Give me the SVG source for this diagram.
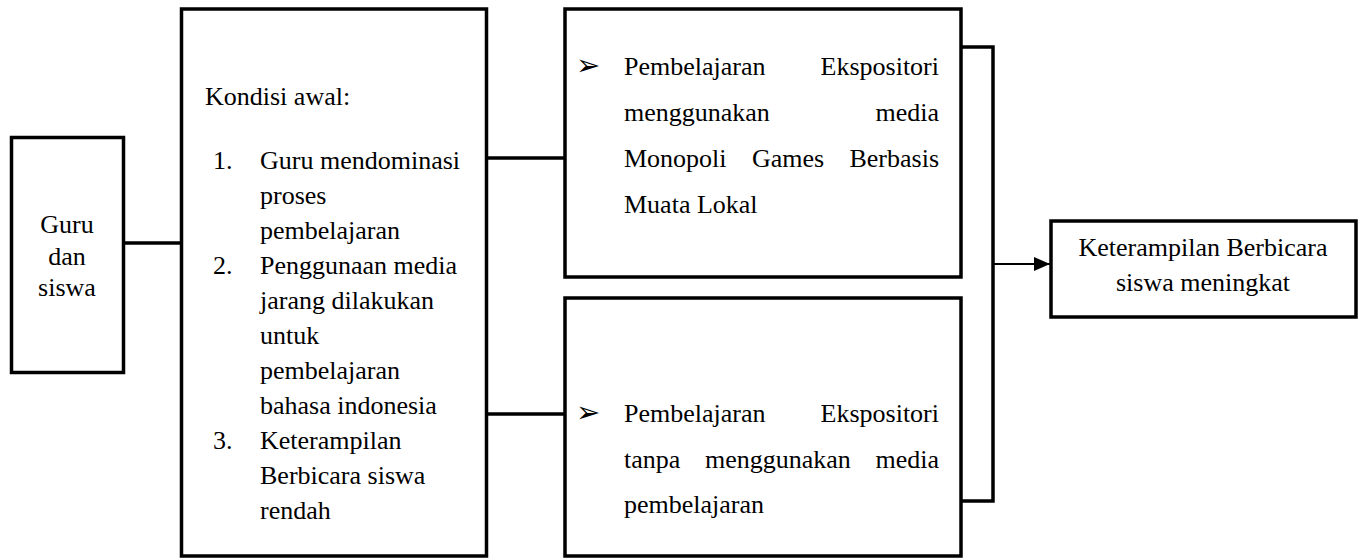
<svg xmlns="http://www.w3.org/2000/svg" width="1362" height="559" viewBox="0 0 1362 559">
<style>
.box{fill:#fff;stroke:#000;stroke-width:3.5}
text{font-family:'Liberation Serif','Times New Roman',serif;font-size:26px;fill:#000}
text.m{text-anchor:middle}
text.e{text-anchor:end}
text.b{font-family:'DejaVu Sans',sans-serif;font-size:29px;fill:#000}
.c{fill:none;stroke:#000;stroke-width:3.5}
</style>
<defs>
<marker id="ah" markerWidth="16" markerHeight="14" refX="16" refY="7" orient="auto" markerUnits="userSpaceOnUse">
<path d="M0,0 L16,7 L0,14 Z" fill="#000"/>
</marker>
</defs>
<rect width="1362" height="559" fill="#fff"/>
<g id="connectors">
<line class="c" x1="124" y1="243" x2="182" y2="243"/>
<line class="c" x1="486" y1="158" x2="566" y2="158"/>
<line class="c" x1="486" y1="414" x2="566" y2="414"/>
<path class="c" d="M961,47 H993 V501 H961"/>
<line x1="993" y1="264" x2="1050" y2="264" stroke="#000" stroke-width="2" marker-end="url(#ah)"/>
</g>
<g id="node-guru">
<rect class="box" x="11.5" y="137.5" width="112" height="235"/>
<text class="m" x="67" y="233">Guru</text>
<text class="m" x="67" y="265">dan</text>
<text class="m" x="67" y="296">siswa</text>
</g>
<g id="node-kondisi">
<rect class="box" x="181.5" y="9" width="305" height="547"/>
<text x="205" y="105">Kondisi awal:</text>
<text x="213" y="169">1.</text>
<text x="260" y="169">Guru mendominasi</text>
<text x="260" y="204">proses</text>
<text x="260" y="239">pembelajaran</text>
<text x="213" y="274">2.</text>
<text x="260" y="274">Penggunaan media</text>
<text x="260" y="309">jarang dilakukan</text>
<text x="260" y="344">untuk</text>
<text x="260" y="379">pembelajaran</text>
<text x="260" y="414">bahasa indonesia</text>
<text x="213" y="449">3.</text>
<text x="260" y="449">Keterampilan</text>
<text x="260" y="484">Berbicara siswa</text>
<text x="260" y="519">rendah</text>
</g>
<g id="node-media">
<rect class="box" x="565" y="9" width="396" height="268"/>
<text class="b" x="576" y="75">➢</text>
<text x="624" y="75">Pembelajaran</text>
<text class="e" x="939" y="75">Ekspositori</text>
<text x="624" y="121">menggunakan</text>
<text class="e" x="939" y="121">media</text>
<text x="624" y="167">Monopoli</text>
<text x="752" y="167">Games</text>
<text class="e" x="939" y="167">Berbasis</text>
<text x="624" y="213">Muata Lokal</text>
</g>
<g id="node-tanpa">
<rect class="box" x="565" y="298" width="396" height="258"/>
<text class="b" x="576" y="422">➢</text>
<text x="624" y="422">Pembelajaran</text>
<text class="e" x="939" y="422">Ekspositori</text>
<text x="624" y="468">tanpa</text>
<text x="705" y="468">menggunakan</text>
<text class="e" x="939" y="468">media</text>
<text x="624" y="513">pembelajaran</text>
</g>
<g id="node-hasil">
<rect class="box" x="1051" y="221" width="305" height="96"/>
<text class="m" x="1203" y="256">Keterampilan Berbicara</text>
<text class="m" x="1203" y="291">siswa meningkat</text>
</g>
</svg>
